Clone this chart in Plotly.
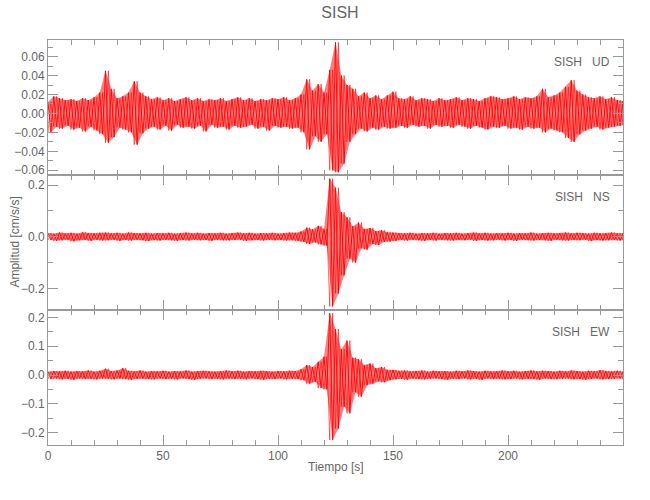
import plotly.graph_objects as go
from plotly.subplots import make_subplots

# sampling grid of the envelope (s)
time_s = [
    0, 2.5, 5, 7.5, 10, 12.5, 15, 17.5, 20, 22.5,
    25, 27.5, 30, 32.5, 35, 37.5, 40, 42.5, 45, 47.5,
    50, 52.5, 55, 57.5, 60, 62.5, 65, 67.5, 70, 72.5,
    75, 77.5, 80, 82.5, 85, 87.5, 90, 92.5, 95, 97.5,
    100, 102.5, 105, 107.5, 110, 112.5, 115, 117.5, 120, 122.5,
    125, 127.5, 130, 132.5, 135, 137.5, 140, 142.5, 145, 147.5,
    150, 152.5, 155, 157.5, 160, 162.5, 165, 167.5, 170, 172.5,
    175, 177.5, 180, 182.5, 185, 187.5, 190, 192.5, 195, 197.5,
    200, 202.5, 205, 207.5, 210, 212.5, 215, 217.5, 220, 222.5,
    225, 227.5, 230, 232.5, 235, 237.5, 240, 242.5, 245, 247.5,
    250,
]

# UD component: positive and negative peaks per interval (cm/s/s)
ud_max = [
    0.012, 0.018, 0.016, 0.014, 0.015, 0.013, 0.016, 0.014, 0.017, 0.022,
    0.045, 0.026, 0.016, 0.018, 0.022, 0.034, 0.022, 0.018, 0.015, 0.017,
    0.014, 0.016, 0.013, 0.015, 0.017, 0.014, 0.016, 0.013, 0.015, 0.014,
    0.016, 0.013, 0.015, 0.017, 0.014, 0.016, 0.013, 0.015, 0.014, 0.016,
    0.015, 0.017, 0.014, 0.016, 0.020, 0.036, 0.024, 0.031, 0.022, 0.046,
    0.075, 0.040, 0.030, 0.026, 0.018, 0.022, 0.016, 0.019, 0.015, 0.019,
    0.023, 0.016, 0.015, 0.018, 0.014, 0.016, 0.015, 0.013, 0.016, 0.014,
    0.015, 0.017, 0.014, 0.016, 0.015, 0.013, 0.016, 0.018, 0.017, 0.015,
    0.016, 0.018, 0.015, 0.017, 0.016, 0.018, 0.026, 0.017, 0.019, 0.022,
    0.028, 0.035, 0.024, 0.020, 0.017, 0.016, 0.018, 0.015, 0.017, 0.014,
    0.013,
]
ud_min = [
    -0.020, -0.014, -0.016, -0.013, -0.017, -0.015, -0.019, -0.014, -0.018, -0.022,
    -0.031, -0.025, -0.015, -0.017, -0.020, -0.033, -0.021, -0.016, -0.014, -0.017,
    -0.013, -0.018, -0.012, -0.015, -0.014, -0.016, -0.013, -0.019, -0.012, -0.015,
    -0.014, -0.017, -0.013, -0.015, -0.014, -0.012, -0.016, -0.014, -0.018, -0.013,
    -0.015, -0.014, -0.016, -0.015, -0.020, -0.038, -0.024, -0.030, -0.022, -0.060,
    -0.062, -0.053, -0.030, -0.022, -0.016, -0.019, -0.015, -0.017, -0.014, -0.016,
    -0.015, -0.013, -0.015, -0.012, -0.014, -0.013, -0.016, -0.012, -0.014, -0.013,
    -0.015, -0.012, -0.014, -0.016, -0.013, -0.015, -0.017, -0.014, -0.015, -0.013,
    -0.016, -0.015, -0.017, -0.014, -0.016, -0.015, -0.020, -0.016, -0.018, -0.020,
    -0.026, -0.030, -0.022, -0.018, -0.016, -0.014, -0.017, -0.015, -0.014, -0.013,
    -0.012,
]

# NS component
ns_max = [
    0.014, 0.012, 0.016, 0.013, 0.015, 0.012, 0.017, 0.014, 0.013, 0.015,
    0.016, 0.013, 0.015, 0.012, 0.016, 0.014, 0.013, 0.015, 0.012, 0.014,
    0.013, 0.015, 0.012, 0.014, 0.016, 0.013, 0.015, 0.012, 0.014, 0.013,
    0.015, 0.012, 0.014, 0.016, 0.013, 0.015, 0.012, 0.014, 0.013, 0.015,
    0.012, 0.014, 0.016, 0.015, 0.020, 0.035, 0.028, 0.042, 0.030, 0.225,
    0.190, 0.095, 0.075, 0.040, 0.055, 0.030, 0.034, 0.022, 0.025, 0.017,
    0.016, 0.014, 0.013, 0.015, 0.012, 0.014, 0.013, 0.015, 0.012, 0.014,
    0.013, 0.015, 0.012, 0.014, 0.016, 0.013, 0.015, 0.012, 0.014, 0.013,
    0.015, 0.012, 0.014, 0.013, 0.016, 0.012, 0.014, 0.015, 0.013, 0.014,
    0.016, 0.013, 0.015, 0.014, 0.012, 0.015, 0.013, 0.014, 0.016, 0.013,
    0.014,
]
ns_min = [
    -0.013, -0.016, -0.014, -0.012, -0.018, -0.014, -0.013, -0.016, -0.012, -0.015,
    -0.014, -0.012, -0.016, -0.013, -0.015, -0.012, -0.014, -0.017, -0.013, -0.015,
    -0.012, -0.014, -0.016, -0.013, -0.015, -0.012, -0.014, -0.013, -0.016, -0.012,
    -0.014, -0.015, -0.013, -0.012, -0.016, -0.014, -0.013, -0.015, -0.012, -0.014,
    -0.013, -0.015, -0.014, -0.016, -0.020, -0.028, -0.022, -0.030, -0.035, -0.270,
    -0.220, -0.150, -0.085, -0.100, -0.045, -0.050, -0.028, -0.032, -0.020, -0.019,
    -0.016, -0.013, -0.015, -0.012, -0.014, -0.016, -0.013, -0.015, -0.012, -0.014,
    -0.015, -0.013, -0.014, -0.012, -0.016, -0.013, -0.015, -0.014, -0.012, -0.015,
    -0.013, -0.016, -0.012, -0.014, -0.015, -0.013, -0.014, -0.016, -0.012, -0.014,
    -0.015, -0.013, -0.014, -0.012, -0.017, -0.013, -0.015, -0.014, -0.013, -0.015,
    -0.013,
]

# EW component
ew_max = [
    0.012, 0.014, 0.013, 0.015, 0.012, 0.014, 0.013, 0.016, 0.012, 0.015,
    0.022, 0.014, 0.016, 0.024, 0.015, 0.013, 0.016, 0.012, 0.014, 0.013,
    0.015, 0.012, 0.014, 0.013, 0.016, 0.012, 0.014, 0.015, 0.013, 0.012,
    0.014, 0.016, 0.013, 0.015, 0.012, 0.014, 0.013, 0.015, 0.014, 0.012,
    0.014, 0.013, 0.015, 0.014, 0.020, 0.035, 0.028, 0.046, 0.064, 0.215,
    0.160, 0.090, 0.120, 0.060, 0.055, 0.035, 0.040, 0.024, 0.028, 0.018,
    0.018, 0.015, 0.016, 0.013, 0.014, 0.016, 0.012, 0.015, 0.013, 0.014,
    0.012, 0.015, 0.013, 0.016, 0.014, 0.012, 0.015, 0.013, 0.014, 0.016,
    0.013, 0.015, 0.012, 0.014, 0.016, 0.013, 0.015, 0.014, 0.012, 0.015,
    0.013, 0.016, 0.014, 0.012, 0.015, 0.013, 0.017, 0.014, 0.013, 0.015,
    0.012,
]
ew_min = [
    -0.014, -0.012, -0.015, -0.013, -0.016, -0.012, -0.014, -0.013, -0.015, -0.012,
    -0.013, -0.015, -0.012, -0.014, -0.016, -0.013, -0.012, -0.014, -0.015, -0.012,
    -0.014, -0.013, -0.015, -0.012, -0.014, -0.016, -0.013, -0.012, -0.014, -0.013,
    -0.015, -0.012, -0.014, -0.013, -0.015, -0.012, -0.014, -0.016, -0.013, -0.014,
    -0.012, -0.015, -0.013, -0.014, -0.018, -0.030, -0.024, -0.045, -0.050, -0.226,
    -0.186, -0.110, -0.133, -0.060, -0.075, -0.035, -0.030, -0.022, -0.025, -0.018,
    -0.015, -0.013, -0.016, -0.012, -0.014, -0.015, -0.013, -0.012, -0.014, -0.016,
    -0.013, -0.014, -0.012, -0.015, -0.013, -0.016, -0.012, -0.014, -0.013, -0.015,
    -0.014, -0.012, -0.015, -0.013, -0.014, -0.016, -0.012, -0.014, -0.015, -0.013,
    -0.012, -0.015, -0.014, -0.016, -0.013, -0.012, -0.015, -0.014, -0.013, -0.012,
    -0.014,
]

components = ["UD", "NS", "EW"]
station = "SISH"
x_ticks = [0, 50, 100, 150, 200]

FONT = "Liberation Sans Narrow, Liberation Sans, DejaVu Sans, sans-serif"
TXT = "#666666"
AX = "#999999"
HALF = 1.25  # offset (s) between positive and negative peak in one interval

series = [(ud_max, ud_min), (ns_max, ns_min), (ew_max, ew_min)]

fig = make_subplots(rows=3, cols=1, shared_xaxes=True, vertical_spacing=0)

for r, (vmax, vmin) in enumerate(series, start=1):
    n = min(len(time_s), len(vmax), len(vmin))
    t_hi = list(time_s[:n])
    t_lo = [t + HALF for t in time_s[:n]]
    hi = list(vmax[:n])
    lo = list(vmin[:n])
    # filled band between peaks
    fig.add_trace(go.Scatter(
        x=t_hi + t_lo[::-1], y=hi + lo[::-1],
        fill="toself", fillcolor="rgba(255,0,0,0.5)",
        line=dict(width=0), mode="lines", hoverinfo="skip", showlegend=False,
    ), row=r, col=1)
    # oscillating traces through the peaks (two phases)
    xs1, ys1, xs2, ys2 = [], [], [], []
    for i in range(n):
        xs1 += [t_hi[i], t_lo[i]]
        ys1 += [hi[i], lo[i]]
        xs2 += [t_hi[i], t_lo[i]]
        ys2 += [lo[i], hi[i]]
    fig.add_trace(go.Scatter(
        x=xs1, y=ys1, mode="lines", line=dict(color="#ff0000", width=0.9),
        showlegend=False, hoverinfo="skip",
    ), row=r, col=1)
    fig.add_trace(go.Scatter(
        x=xs2, y=ys2, mode="lines", line=dict(color="rgba(255,0,0,0.8)", width=0.7),
        showlegend=False, hoverinfo="skip",
    ), row=r, col=1)

common = dict(
    showline=True, linecolor=AX, linewidth=1, mirror="allticks",
    ticks="inside", ticklen=10, tickcolor=AX, tickwidth=1,
    showgrid=False, zeroline=False, automargin=False,
    tickfont=dict(family=FONT, size=12, color=TXT),
)

for r in range(1, 4):
    fig.update_xaxes(
        range=[0, 250], tickvals=x_ticks, showticklabels=(r == 3),
        minor=dict(ticks="inside", dtick=10, tick0=0, ticklen=5, tickcolor=AX),
        row=r, col=1, **common,
    )

fig.update_yaxes(range=[-0.065, 0.0775], dtick=0.02, tick0=0, tickformat=".2f",
                 minor=dict(ticks="inside", dtick=0.01, tick0=0, ticklen=5, tickcolor=AX),
                 row=1, col=1, **common)
fig.update_yaxes(range=[-0.284, 0.239], dtick=0.2, tick0=0, tickformat=".1f",
                 minor=dict(ticks="inside", dtick=0.1, tick0=0, ticklen=5, tickcolor=AX),
                 row=2, col=1, **common)
fig.update_yaxes(range=[-0.243, 0.226], dtick=0.1, tick0=0, tickformat=".1f",
                 minor=dict(ticks="inside", dtick=0.05, tick0=0, ticklen=5, tickcolor=AX),
                 row=3, col=1, **common)

annotations = []
for r, comp in enumerate(components, start=1):
    yname = "y domain" if r == 1 else f"y{r} domain"
    xname = "x domain" if r == 1 else f"x{r} domain"
    annotations.append(dict(
        text=f"{station}\u00a0\u00a0\u00a0{comp}", xref=xname, yref=yname,
        x=0.981, y=0.837, xanchor="right", yanchor="middle", showarrow=False,
        font=dict(family=FONT, size=12, color=TXT),
    ))
annotations.append(dict(
    text="Amplitud [cm/s/s]", xref="paper", yref="paper", x=-0.059, y=0.5,
    textangle=-90, xanchor="center", yanchor="middle", showarrow=False,
    font=dict(family=FONT, size=12, color=TXT),
))
annotations.append(dict(
    text="Tiempo [s]", xref="paper", yref="paper", x=0.5, y=-0.054,
    xanchor="center", yanchor="middle", showarrow=False,
    font=dict(family=FONT, size=12, color=TXT),
))

fig.update_layout(
    width=650, height=500,
    margin=dict(l=48, r=27, t=40, b=55, autoexpand=False),
    paper_bgcolor="white", plot_bgcolor="white",
    title=dict(text=station, x=0.523, y=0.976, xanchor="center", yanchor="middle",
               font=dict(family=FONT, size=16, color=TXT)),
    annotations=annotations,
    showlegend=False,
)

fig.write_html("out.html", config={"displayModeBar": False},
               post_script="document.body.style.margin='0px';")
